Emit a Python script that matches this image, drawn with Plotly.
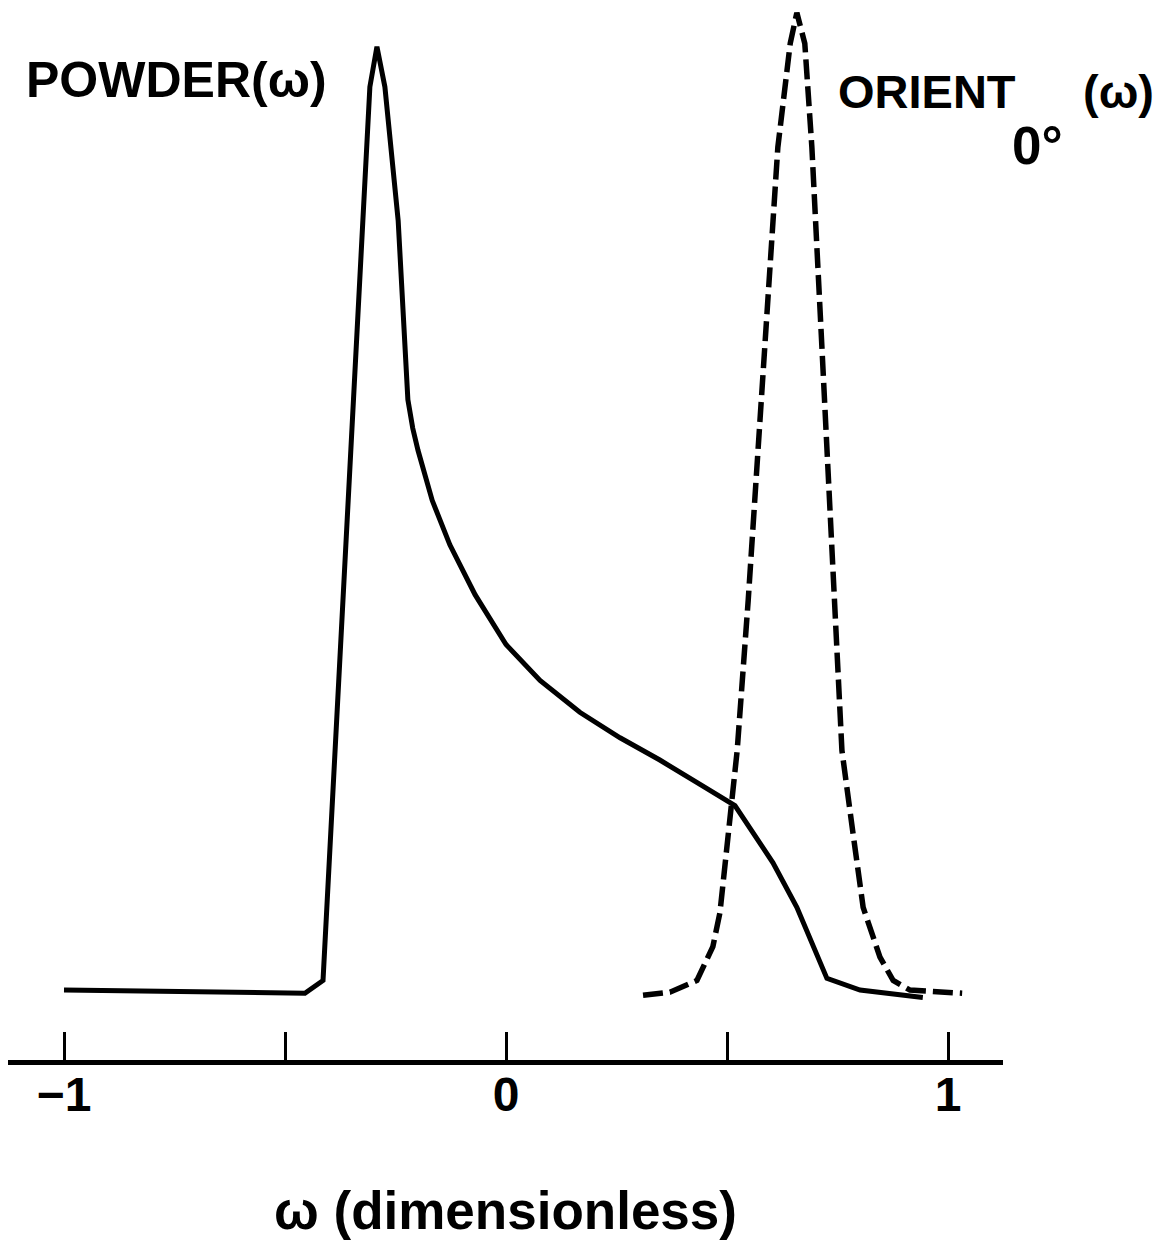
import plotly.graph_objects as go

# Powder line shape, POWDER(omega)
powder_w = [-1.0, -0.455, -0.414, -0.364, -0.326, -0.308, -0.292, -0.274, -0.244,
            -0.235, -0.229, -0.222, -0.211, -0.199, -0.167, -0.127, -0.070, 0.0,
            0.077, 0.167, 0.258, 0.348, 0.439, 0.518, 0.604, 0.658, 0.726, 0.801,
            0.943]
powder_i = [6.6, 6.3, 7.5, 47.2, 79.2, 91.8, 95.6, 91.8, 79.2,
            71.7, 66.5, 62.3, 59.6, 57.5, 52.8, 48.6, 43.9, 39.2,
            35.8, 32.8, 30.4, 28.3, 26.0, 24.0, 18.6, 14.4, 7.7, 6.6,
            5.9]

# Oriented sample at 0 degrees, ORIENT_0(omega)
orient_w = [0.310, 0.371, 0.432, 0.468, 0.484, 0.500, 0.511, 0.523, 0.548, 0.570,
            0.593, 0.615, 0.643, 0.658, 0.676, 0.692, 0.715, 0.738, 0.760, 0.785,
            0.808, 0.846, 0.876, 0.914, 1.032]
orient_i = [6.1, 6.4, 7.5, 10.7, 13.9, 19.8, 23.9, 29.2, 43.4, 57.5,
            71.7, 86.1, 95.9, 98.8, 95.9, 86.1, 67.0, 48.1, 29.2, 21.4,
            14.4, 9.7, 7.5, 6.6, 6.3]

tick_vals = [-1, -0.5, 0, 0.5, 1]
tick_text = ["\u22121", "", "0", "", "1"]

FONT = "Liberation Sans, Arial, Helvetica, sans-serif"
W, H = 1159, 1246
L, R, T, B = 8, 156, 0, 186

fig = go.Figure()
fig.add_trace(go.Scatter(x=powder_w, y=powder_i, mode="lines",
                         line=dict(color="black", width=5), showlegend=False))
fig.add_trace(go.Scatter(x=orient_w, y=orient_i, mode="lines",
                         line=dict(color="black", width=5.5, dash="20px,7px"),
                         showlegend=False))


def px_to_paper(px, py):
    return (px - L) / (W - L - R), (H - B - py) / (H - T - B)


def label(text, px, py, size=47, xanchor="left"):
    xp, yp = px_to_paper(px, py)
    fig.add_annotation(text=text, x=xp, y=yp, xref="paper", yref="paper",
                       xanchor=xanchor, yanchor="middle", showarrow=False,
                       font=dict(family=FONT, size=size, color="black", weight="bold"))


label("POWDER(\u03c9)", 24, 80, size=50)
label("ORIENT", 836, 92, size=47)
label("(\u03c9)", 1081, 92, size=47)
label("0\u00b0", 1010, 146, size=53)

fig.update_layout(
    width=W, height=H,
    margin=dict(l=L, r=R, t=T, b=B),
    paper_bgcolor="white", plot_bgcolor="white",
    xaxis=dict(
        range=[-1.1267, 1.1244],
        showline=True, linewidth=5, linecolor="black",
        ticks="inside", ticklen=28, tickwidth=3, tickcolor="black",
        tickvals=tick_vals, ticktext=tick_text,
        tickfont=dict(family=FONT, size=48, color="black", weight="bold"),
        ticklabelstandoff=-12,
        showgrid=False, zeroline=False,
        title=dict(text="\u03c9 (dimensionless)", standoff=74,
                   font=dict(family=FONT, size=53, color="black", weight="bold")),
    ),
    yaxis=dict(range=[0, 100], visible=False, showgrid=False, zeroline=False),
)

fig.write_html("out.html")
